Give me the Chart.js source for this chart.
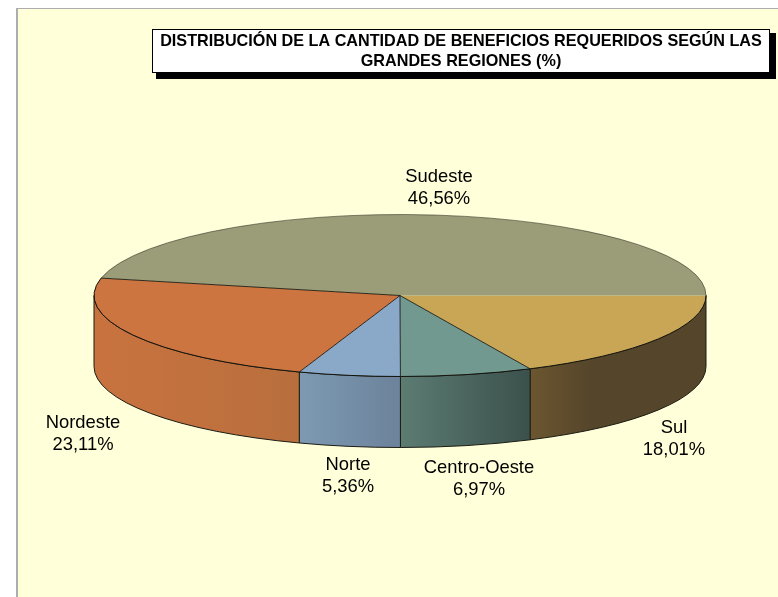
<!DOCTYPE html>
<html>
<head>
<meta charset="utf-8">
<style>
  html, body { margin: 0; padding: 0; background: #fff; }
  #wrap { width: 778px; height: 597px; }
</style>
<script src="https://cdn.jsdelivr.net/npm/chart.js@4"></script>
</head>
<body>
<div id="wrap"><canvas id="pieChart" width="778" height="597"></canvas></div>
<script>
const regions = ['Sul', 'Centro-Oeste', 'Norte', 'Nordeste', 'Sudeste'];
const shares = [18.01, 6.97, 5.36, 23.11, 46.56];
const shareLabels = ['18,01%', '6,97%', '5,36%', '23,11%', '46,56%'];
const titleLines = [
  'DISTRIBUCIÓN DE LA CANTIDAD DE BENEFICIOS REQUERIDOS SEGÚN LAS',
  'GRANDES REGIONES (%)',
];

const topColors = ['#C8A655', '#71998F', '#8AA8C8', '#CC7540', '#9A9D78'];
// [right end, left end] of each side wall
const wallColors = [
  ['#55452A', '#6B5630'],
  ['#3B504C', '#5C7C72'],
  ['#6D829B', '#7C9AB2'],
  ['#B86F3D', '#C9733F'],
  ['#9A9D78', '#9A9D78'],
];

// where the squashed pie sits on the page
const pie = { cx: 400, cy: 295.5, rx: 306, ry: 81, depth: 71 };
// label centres, same order as regions
const labelSpots = [[674, 428], [479, 468], [348, 465], [83, 423], [439, 177]];

const pie3d = {
  id: 'pie3d',
  beforeDraw(chart) {
    const ctx = chart.ctx;
    ctx.save();
    ctx.fillStyle = '#FFFFD9';
    ctx.fillRect(17, 9, 761, 588);
    ctx.fillStyle = '#ADADAD';
    ctx.fillRect(16, 8, 762, 1);
    ctx.fillRect(16, 8, 2, 589);

    // title box
    ctx.fillStyle = '#000';
    ctx.fillRect(156, 33, 620, 46);
    ctx.fillStyle = '#fff';
    ctx.fillRect(152.5, 29.5, 617, 43);
    ctx.strokeStyle = '#000';
    ctx.strokeRect(152.5, 29.5, 617, 43);
    ctx.restore();
  },
  beforeDatasetsDraw(chart) {
    const ctx = chart.ctx;
    const arcs = chart.getDatasetMeta(0).data;

    // side walls, only the front half of the pie shows them
    arcs.forEach((arc, i) => {
      const a0 = Math.max(arc.startAngle, 0);
      const a1 = Math.min(arc.endAngle, Math.PI);
      if (a1 <= a0) return;
      const x0 = pie.cx + pie.rx * Math.cos(a0);
      const x1 = pie.cx + pie.rx * Math.cos(a1);
      const grad = ctx.createLinearGradient(x1, 0, x0, 0);
      grad.addColorStop(0, wallColors[i][1]);
      grad.addColorStop(i === 0 ? 0.35 : 1, wallColors[i][0]);
      ctx.beginPath();
      ctx.ellipse(pie.cx, pie.cy, pie.rx, pie.ry, 0, a0, a1);
      ctx.ellipse(pie.cx, pie.cy + pie.depth, pie.rx, pie.ry, 0, a1, a0, true);
      ctx.closePath();
      ctx.fillStyle = grad;
      ctx.fill();
      ctx.strokeStyle = '#1c1c14';
      ctx.lineWidth = 1;
      ctx.stroke();
    });

    // squash the library's round pie into the top face
    const first = arcs[0];
    ctx.save();
    ctx.translate(pie.cx, pie.cy);
    ctx.scale(pie.rx / first.outerRadius, pie.ry / first.outerRadius);
    ctx.translate(-first.x, -first.y);
  },
  afterDatasetsDraw(chart) {
    const ctx = chart.ctx;
    ctx.restore();
    const arcs = chart.getDatasetMeta(0).data;

    arcs.forEach((arc, i) => {
      // rim, softer on the back side
      ctx.beginPath();
      ctx.ellipse(pie.cx, pie.cy, pie.rx, pie.ry, 0, arc.startAngle, arc.endAngle);
      ctx.strokeStyle = i === 4 ? 'rgba(40,40,30,0.55)' : '#14140e';
      ctx.lineWidth = 1;
      ctx.stroke();

      // spoke
      if (i === 0) return;
      ctx.beginPath();
      ctx.moveTo(pie.cx, pie.cy);
      ctx.lineTo(pie.cx + pie.rx * Math.cos(arc.startAngle), pie.cy + pie.ry * Math.sin(arc.startAngle));
      ctx.strokeStyle = 'rgba(20,20,14,0.85)';
      ctx.stroke();
    });

    // texts
    ctx.save();
    ctx.fillStyle = '#000';
    ctx.textAlign = 'center';
    ctx.textBaseline = 'middle';
    ctx.font = 'bold 16.2px "Liberation Sans"';
    ctx.fillText(titleLines[0], 461, 42);
    ctx.fillText(titleLines[1], 461, 62);

    ctx.font = '18.4px "Liberation Sans"';
    regions.forEach((name, i) => {
      const [x, y] = labelSpots[i];
      ctx.fillText(name, x, y);
      ctx.fillText(shareLabels[i], x, y + 22);
    });
    ctx.restore();
  },
};

new Chart(document.getElementById('pieChart'), {
  type: 'pie',
  data: {
    labels: regions,
    datasets: [
      {
        data: shares,
        backgroundColor: topColors,
        borderWidth: 0,
        clip: false,
      },
    ],
  },
  options: {
    responsive: false,
    animation: false,
    rotation: 90,
    plugins: {
      legend: { display: false },
      tooltip: { enabled: false },
    },
  },
  plugins: [pie3d],
});
</script>
</body>
</html>
